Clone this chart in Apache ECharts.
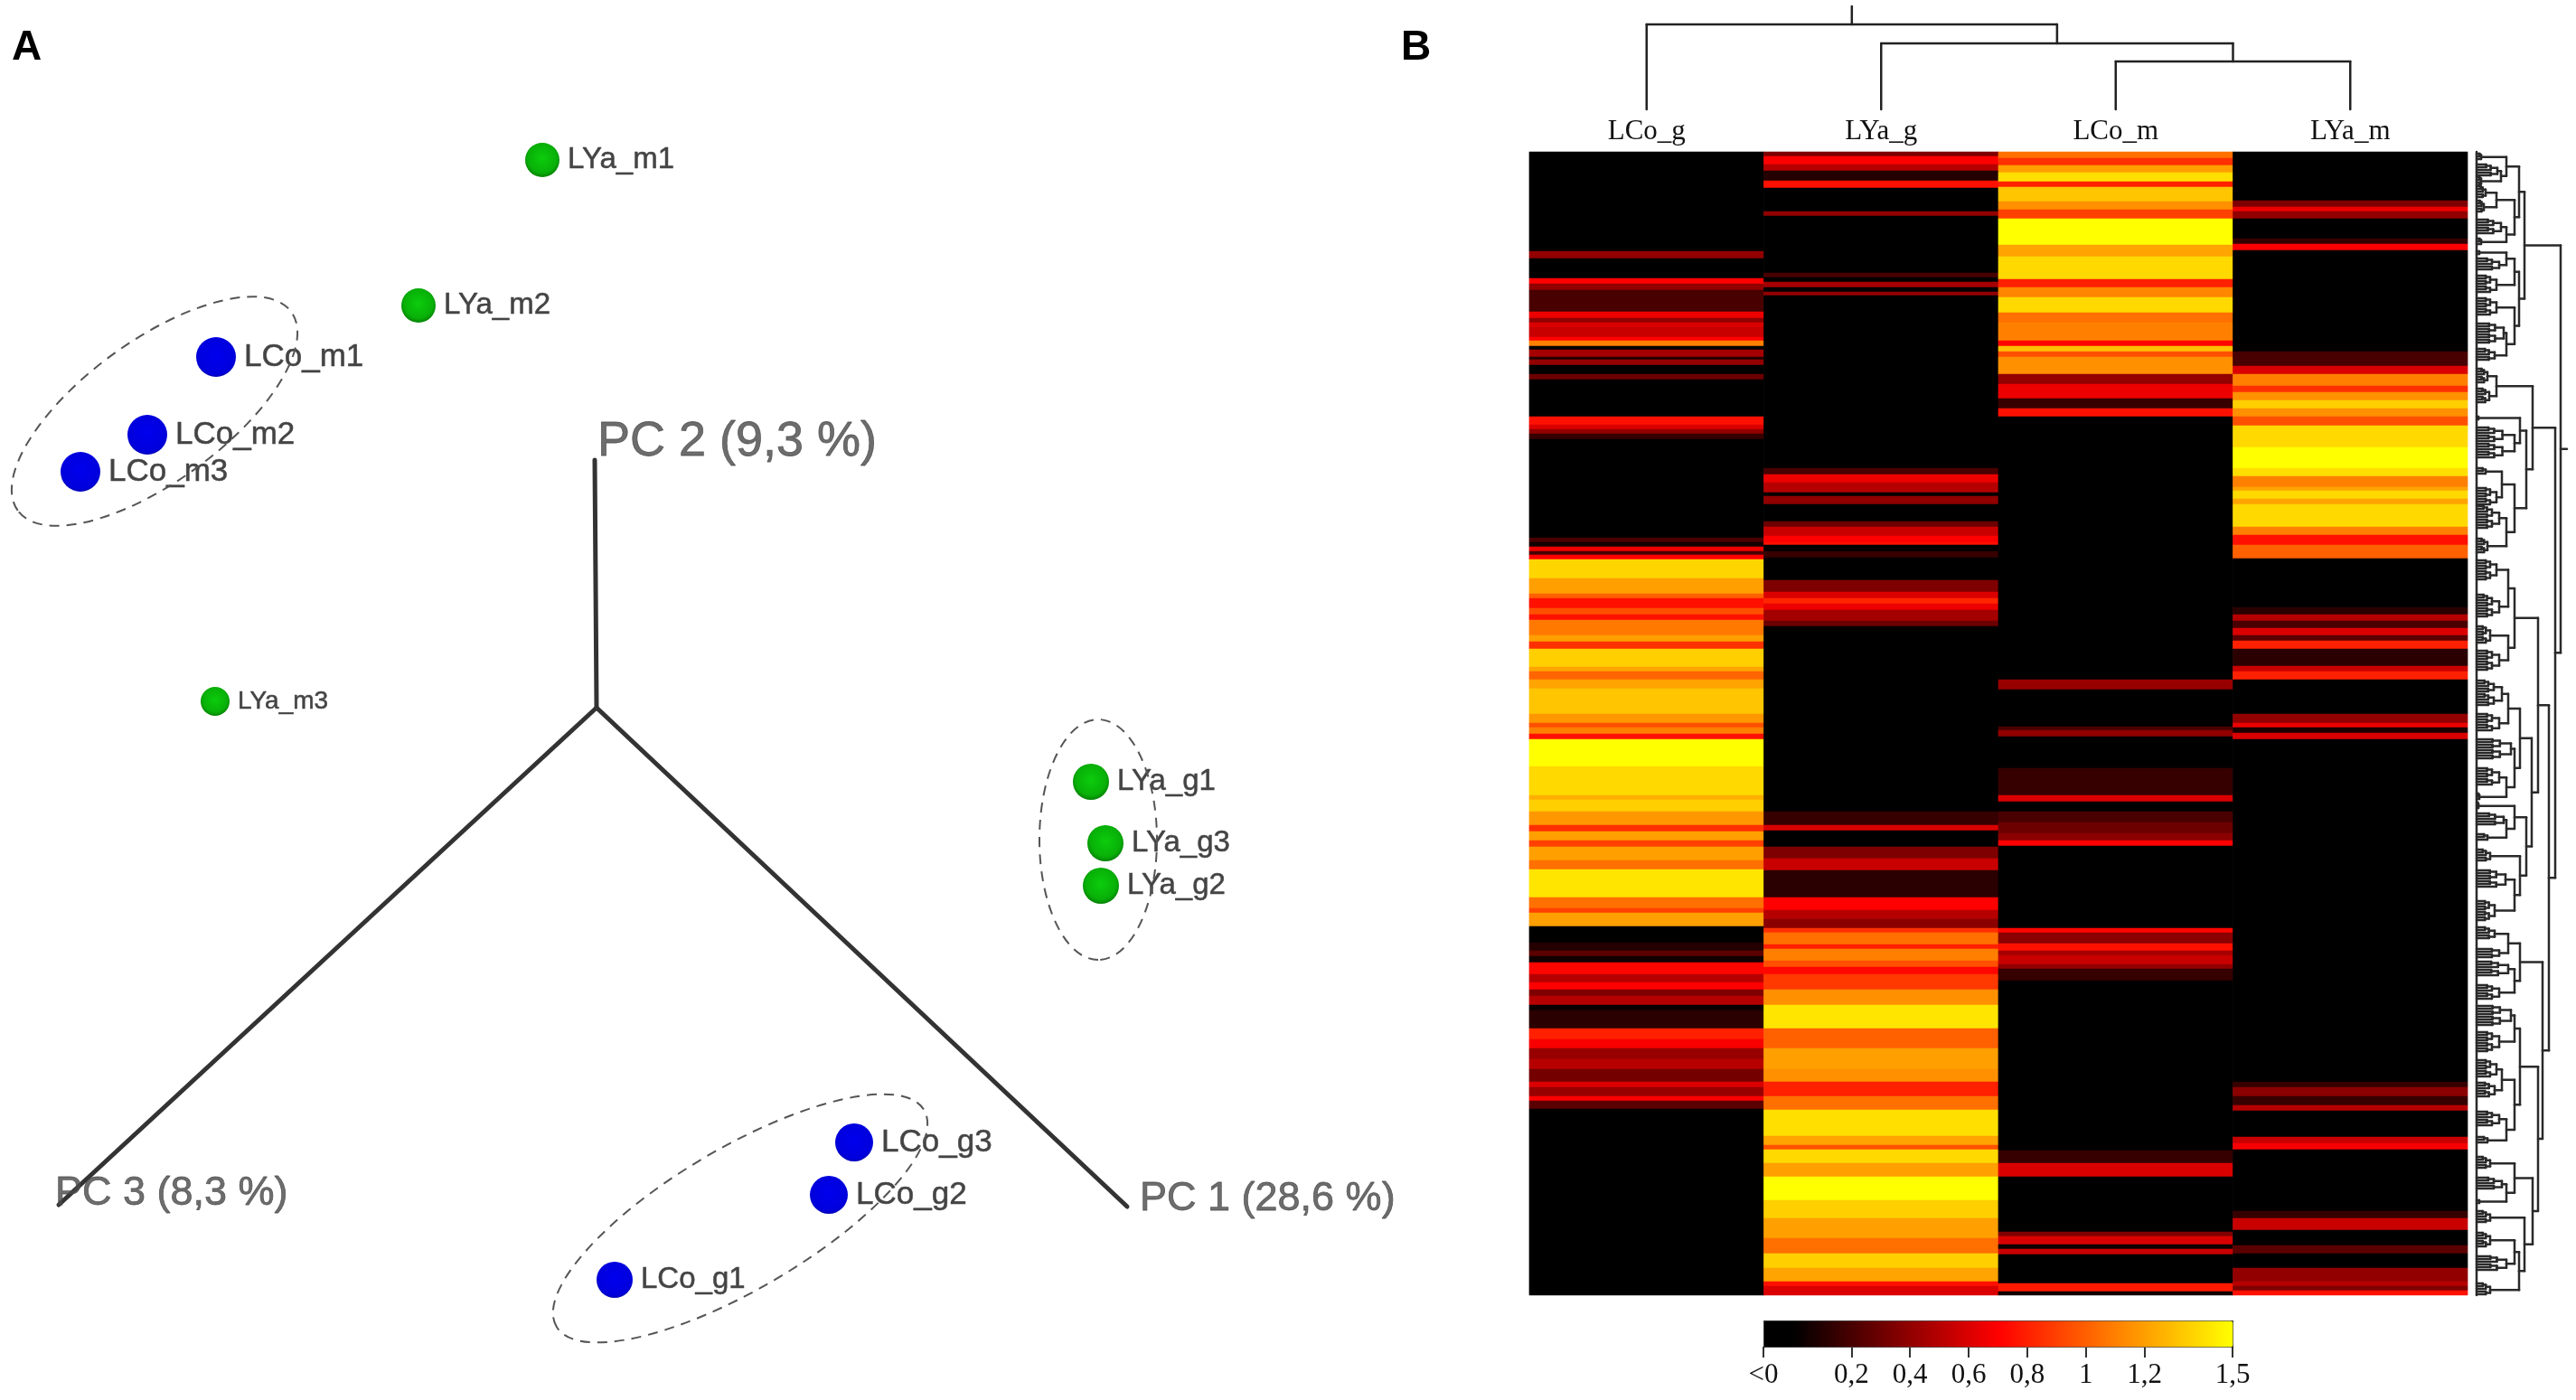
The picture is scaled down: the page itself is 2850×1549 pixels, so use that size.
<!DOCTYPE html>
<html>
<head>
<meta charset="utf-8">
<style>html,body{margin:0;padding:0;background:#fff}#c{width:2850px;height:1549px}</style>
<script src="https://cdn.jsdelivr.net/npm/echarts@6/dist/echarts.min.js"></script>
</head>
<body>
<div id="c"></div>
<script>
// ---------- Panel A data (projected PCA scores) ----------
var sampleNames = ['LYa_m1','LYa_m2','LYa_m3','LYa_g1','LYa_g2','LYa_g3','LCo_m1','LCo_m2','LCo_m3','LCo_g1','LCo_g2','LCo_g3'];
var sampleX = [600,463,238,1207,1218,1223,239,163,89,680,917,945];
var sampleY = [177,338,776,865,980,933,395,481,522,1416,1322,1264];
var axisNames = ['PC 1 (28,6 %)','PC 2 (9,3 %)','PC 3 (8,3 %)'];
var axisOrigin = [660,783];
var axisEndX = [1247,658,65];
var axisEndY = [1335,509,1333];
var axisLabelX = [1261,661,61];
var axisLabelY = [1327,489,1321];
// cluster outlines: centre x, centre y, half length, half width, tilt in degrees
var clusterOutlines = [[171,455,187,78,36],[1215,929,133,65,90],[819,1348,236,78,30.5]];

// ---------- Panel B data ----------
var columns = ['LCo_g','LYa_g','LCo_m','LYa_m'];
var rowCount = 1265;
// each band: [last row of the band, expression value]
var LCo_g = [[110,0],[118,.4],[140,0],[146,.7],[153,.4],[177,.2],[184,.65],[189,.4],[194,.6],[205,.55],[209,.7],[215,1.1],[219,0],[227,.45],[230,.1],[236,.4],[246,0],[252,.3],[293,0],[302,.75],[307,.6],[312,.4],[318,.15],[427,0],[432,.2],[437,.05],[442,.65],[446,.2],[451,.7],[472,1.37],[489,1.2],[494,1],[505,.75],[512,.95],[518,.75],[535,1.08],[542,1.2],[550,.85],[570,1.35],[575,1.22],[584,1.02],[594,1.22],[622,1.32],[632,1.18],[637,.95],[644,1.1],[650,.75],[680,1.5],[712,1.38],[717,1.25],[730,1.35],[745,1.18],[752,.85],[762,1.2],[769,.9],[784,1.2],[794,1.05],[825,1.42],[837,1.05],[842,.9],[857,1.2],[875,0],[884,.1],[890,.25],[897,.05],[910,.72],[919,.5],[927,.7],[934,.35],[944,.5],[950,.03],[970,.12],[982,.8],[992,.68],[1004,.42],[1015,.5],[1029,.32],[1035,.6],[1045,.42],[1050,.7],[1059,.25],[1265,0]];
var LYa_g = [[5,.35],[14,.7],[21,.5],[32,.1],[40,.75],[66,0],[71,.4],[134,0],[139,.2],[144,0],[150,.45],[155,0],[159,.4],[350,0],[357,.2],[366,.65],[377,.5],[381,0],[390,.4],[409,0],[415,.3],[425,.55],[432,.7],[435,.75],[442,0],[449,.15],[474,0],[487,.35],[494,.6],[500,.82],[507,.65],[519,.45],[525,.3],[730,0],[745,.15],[751,.6],[769,0],[782,.35],[795,.55],[825,.12],[839,.7],[849,.5],[859,.38],[864,.85],[877,1.05],[882,.8],[895,1.1],[902,.95],[910,.72],[927,.88],[944,1.15],[970,1.42],[992,1],[1015,1.2],[1029,1.15],[1045,.8],[1060,1.05],[1089,1.4],[1099,1.22],[1104,.95],[1119,1.38],[1134,1.2],[1160,1.5],[1180,1.35],[1202,1.2],[1219,1.05],[1235,1.35],[1250,1.22],[1255,.75],[1265,.6]];
var LCo_m = [[7,1.05],[15,.85],[23,1.2],[33,1.4],[39,.8],[55,1.32],[64,1.15],[74,.9],[103,1.5],[116,1.22],[141,1.38],[150,.8],[161,1.12],[178,1.38],[189,1.05],[209,1.1],[215,.72],[221,1.3],[227,.95],[246,1.15],[257,.4],[273,.65],[284,.15],[293,.75],[584,0],[595,.42],[636,0],[640,.2],[647,.4],[682,0],[712,.15],[719,.6],[730,0],[742,.2],[754,.3],[762,.38],[768,.7],[859,0],[864,.72],[876,.38],[884,.75],[889,.45],[899,.55],[904,.4],[917,.15],[1105,0],[1119,.15],[1134,.6],[1195,0],[1200,.35],[1209,.6],[1214,.05],[1220,.55],[1252,0],[1261,.78],[1265,.05]];
var LYa_m = [[54,0],[61,.35],[66,.65],[74,.4],[96,0],[102,.15],[109,.7],[221,0],[237,.2],[246,.6],[259,1.1],[266,.85],[275,1.15],[284,1.35],[293,1.15],[303,.95],[327,1.38],[350,1.5],[359,1.4],[371,1.1],[375,1.22],[384,1.38],[390,1.22],[415,1.38],[424,1.1],[435,.75],[450,1],[504,0],[512,.12],[519,.5],[527,.2],[535,.6],[541,.25],[550,.8],[569,.12],[575,.55],[584,.8],[622,0],[632,.4],[637,.65],[643,.08],[650,.6],[1029,0],[1035,.15],[1045,.38],[1055,.15],[1061,.5],[1090,0],[1097,.55],[1104,.68],[1172,0],[1180,.15],[1193,.55],[1210,0],[1219,.25],[1235,0],[1250,.4],[1255,.5],[1260,.35],[1265,.75]];
var columnBands = [LCo_g, LYa_g, LCo_m, LYa_m];
var scaleStops = ['#000000','#000000','#240000','#490000','#6d0000','#920000','#b60000','#db0000','#ff0000','#ff2000','#ff4000','#ff6000','#ff8000','#ff9f00','#ffbf00','#ffdf00','#ffff00'];
var scaleTickValues = [-0.1,0.2,0.4,0.6,0.8,1,1.2,1.5];
var scaleTickLabels = ['<0','0,2','0,4','0,6','0,8','1','1,2','1,5'];

// sample tree: [left x, left height, right x, right height, merge height]
var sampleMerges = [[2.5,0,3.5,0,53],[1.5,0,3,53,73],[0.5,0,2.25,73,94]];
var sampleRoot = [1.375,94,114];

// gene tree: n(height, upper, lower), g(first row, last row, height)
function n(h,a,b){return {h:h,a:a,b:b};}
function g(t,b,h){return {t:t,e:b,h:h};}
var geneTop = n(53,
  n(47, n(33,g(2,10,5),n(27,g(14,26,23),g(28,38,5))),
        n(42,n(22,g(38,50,10),g(54,66,8)),n(33,g(75,92,27),g(96,102,5)))),
  n(47, n(42,n(33,g(110,114,3),g(118,132,25)),g(137,156,22)),
        n(42,g(162,182,22),n(33,g(190,212,30),g(218,232,20)))));
var geneP1 = n(62, n(22,g(240,256,12),g(262,278,14)),
  n(55, n(48,g(293,297,2),g(305,340,42)),
        n(42,n(28,g(350,358,10),g(372,390,22)),n(33,g(392,417,25),g(428,445,12)))));
var geneP2 = n(80,
  n(68, n(42,n(35,g(452,475,22),g(490,515,25)),n(35,g(525,545,15),g(552,575,25))),
        n(61, n(48,n(35,g(585,612,28),g(622,642,25)),n(42,g(650,672,38),n(33,g(682,702,25),g(710,716,3)))),
              n(55,n(42,g(720,728,2),n(33,g(732,746,30),g(755,762,12))),
                   n(48,g(772,785,15),n(42,g(795,815,32),g(829,850,20)))))),
  n(73, n(48,n(35,g(858,870,20),g(882,892,25)),n(42,g(896,912,35),g(922,939,25))),
        n(68, n(48,n(42,g(945,966,38),g(974,997,25)),
                   n(42,n(28,g(1005,1025,22),g(1030,1045,20)),n(33,g(1062,1078,25),g(1090,1098,12)))),
              n(62,n(42,g(1112,1125,15),n(33,g(1135,1148,28),g(1160,1164,3))),
                   n(53,g(1172,1185,15),n(47,n(42,g(1196,1212,15),g(1222,1238,33)),g(1252,1265,15)))))));
var geneRoot = n(93, geneTop, n(87, geneP1, geneP2));
var geneLeafStep = 3;

// ---------- build series data ----------
var heatData = [];
columnBands.forEach(function(bands,c){
  var row = 0;
  bands.forEach(function(b){ for(; row<b[0]; row++) heatData.push([c,row,b[1]]); });
});
var rowNames = []; for (var r=0;r<rowCount;r++) rowNames.push(r);

var axisSegments = axisEndX.map(function(x,i){return [axisOrigin[0],axisOrigin[1],x,axisEndY[i]];});
var axisLabelSizes = [45,54,45];
var axisLabelData = axisNames.map(function(nm,i){return {name:nm,value:[axisLabelX[i],axisLabelY[i]],label:{fontSize:axisLabelSizes[i]}};});

var sampleSegments = [];
sampleMerges.forEach(function(m){
  sampleSegments.push([m[0],m[4],m[2],m[4]],[m[0],m[4],m[0],m[1]],[m[2],m[4],m[2],m[3]]);
});
sampleSegments.push([sampleRoot[0],sampleRoot[1],sampleRoot[0],sampleRoot[2]]);

var geneSegments = [[0,0,0,rowCount]];
function leafTree(ys,lo,hi,h){
  if (lo===hi) return {y:ys[lo],h:0};
  var mid = Math.floor((lo+hi)/2);
  var a = leafTree(ys,lo,mid,h*0.68), b = leafTree(ys,mid+1,hi,h*0.68);
  return joinBranches(h,a,b);
}
function joinBranches(h,a,b){
  geneSegments.push([h,a.y,h,b.y],[a.h,a.y,h,a.y],[b.h,b.y,h,b.y]);
  return {y:(a.y+b.y)/2,h:h};
}
function walk(t){
  if (t.a) return joinBranches(t.h,walk(t.a),walk(t.b));
  var ys=[]; for (var y=t.t;y<=t.e;y+=geneLeafStep) ys.push(y);
  return leafTree(ys,0,ys.length-1,t.h);
}
var geneRootPoint = walk(geneRoot);
geneSegments.push([93,geneRootPoint.y,100,geneRootPoint.y]);

function segmentRenderer(width,color){
  return function(p,api){
    var a=api.coord([api.value(0),api.value(1)]), b=api.coord([api.value(2),api.value(3)]);
    return {type:'line',shape:{x1:a[0],y1:a[1],x2:b[0],y2:b[1]},style:{stroke:color,lineWidth:width,lineCap:'round'},silent:true};
  };
}
var ballGreen = {type:'radial',x:0.5,y:0.45,r:0.6,colorStops:[{offset:0,color:'#0ccc0c'},{offset:0.7,color:'#08b008'},{offset:1,color:'#047004'}]};
var ballBlue  = {type:'radial',x:0.5,y:0.45,r:0.6,colorStops:[{offset:0,color:'#0000ee'},{offset:0.8,color:'#0000dc'},{offset:1,color:'#06069a'}]};
// marker and label sizes per sample (same order as sampleNames)
var markerSizes = [38,38,32,40,40,40,44,44,44,40,42,42];
var labelSizes  = [33,33,28,33,33,33,35,35,35,33,35,35];
var sampleData = sampleNames.map(function(nm,i){
  return {name:nm,value:[sampleX[i],sampleY[i]],symbolSize:markerSizes[i],
    itemStyle:{color:nm.indexOf('LYa')===0?ballGreen:ballBlue,opacity:1},
    label:{fontSize:labelSizes[i]}};
});

var option = {
  backgroundColor:'#fff',
  animation:false,
  graphic:[
    {type:'text',left:13,top:30,style:{text:'A',font:'bold 46px "Liberation Sans"',fill:'#000'}},
    {type:'text',left:1550,top:30,style:{text:'B',font:'bold 46px "Liberation Sans"',fill:'#000'}}
  ],
  grid:[
    {left:0,top:0,width:1600,height:1549},
    {left:1692,top:168,width:1038,height:1265},
    {left:1692,top:7,width:1038,height:114},
    {left:2740,top:168,width:110,height:1265},
    {left:1951,top:1461,width:519,height:29}
  ],
  xAxis:[
    {gridIndex:0,type:'value',min:0,max:1600,show:false},
    {gridIndex:1,type:'category',data:columns,position:'top',axisTick:{show:false},axisLine:{show:false},
     axisLabel:{margin:7,fontFamily:'Liberation Serif',fontSize:31,color:'#111'}},
    {gridIndex:2,type:'value',min:0,max:4,show:false},
    {gridIndex:3,type:'value',min:0,max:110,show:false},
    {gridIndex:4,type:'value',min:-0.1,max:1.5,position:'bottom',splitLine:{show:false},axisLine:{show:false},
     axisTick:{show:true,length:12,customValues:scaleTickValues,lineStyle:{color:'#333',width:2}},
     axisLabel:{customValues:scaleTickValues,margin:16,fontFamily:'Liberation Serif',fontSize:31,color:'#111',
       showMinLabel:true,showMaxLabel:true,
       formatter:function(v){var i=scaleTickValues.indexOf(v);return i<0?'':scaleTickLabels[i];}}}
  ],
  yAxis:[
    {gridIndex:0,type:'value',min:0,max:1549,inverse:true,show:false},
    {gridIndex:1,type:'category',data:rowNames,inverse:true,show:false},
    {gridIndex:2,type:'value',min:0,max:114,show:false},
    {gridIndex:3,type:'value',min:0,max:rowCount,inverse:true,show:false},
    {gridIndex:4,type:'value',min:0,max:1,show:false}
  ],
  visualMap:{
    type:'continuous',seriesIndex:0,min:-0.1,max:1.5,orient:'horizontal',calculable:false,realtime:false,
    left:1951,top:1461,itemWidth:29,itemHeight:519,padding:0,text:null,showLabel:false,hoverLink:false,
    borderColor:'#222',borderWidth:1,inRange:{color:scaleStops}
  },
  series:[
    {type:'heatmap',xAxisIndex:1,yAxisIndex:1,data:heatData,progressive:0,silent:true,itemStyle:{borderWidth:0}},
    {type:'custom',name:'axes',xAxisIndex:0,yAxisIndex:0,data:axisSegments,silent:true,z:2,
     renderItem:segmentRenderer(5,'#333'),encode:{x:[0,2],y:[1,3]}},
    {type:'custom',name:'outlines',xAxisIndex:0,yAxisIndex:0,data:clusterOutlines,silent:true,z:5,encode:{x:0,y:1},
     renderItem:function(p,api){
       var c=api.coord([api.value(0),api.value(1)]), s=api.size([api.value(2),api.value(3)]);
       return {type:'ellipse',x:c[0],y:c[1],rotation:api.value(4)*Math.PI/180,
         shape:{cx:0,cy:0,rx:s[0],ry:s[1]},
         style:{fill:null,stroke:'#555',lineWidth:2,lineDash:[11,8]},silent:true};
     }},
    {type:'scatter',name:'samples',xAxisIndex:0,yAxisIndex:0,data:sampleData,silent:true,z:3,
     label:{show:true,position:'right',distance:9,formatter:'{b}',fontFamily:'Liberation Sans',color:'#444',textBorderColor:'#444',textBorderWidth:0.5}},
    {type:'scatter',name:'axis labels',xAxisIndex:0,yAxisIndex:0,data:axisLabelData,symbolSize:0,silent:true,z:4,
     label:{show:true,position:'right',distance:0,formatter:'{b}',fontFamily:'Liberation Sans',color:'#484848',textBorderColor:'#484848',textBorderWidth:0.8}},
    {type:'custom',name:'sample tree',xAxisIndex:2,yAxisIndex:2,data:sampleSegments,silent:true,
     renderItem:segmentRenderer(2.5,'#222'),encode:{x:[0,2],y:[1,3]}},
    {type:'custom',name:'gene tree',xAxisIndex:3,yAxisIndex:3,data:geneSegments,silent:true,
     renderItem:segmentRenderer(2.5,'#2a2a2a'),encode:{x:[0,2],y:[1,3]}},
    {type:'scatter',name:'scale axis',xAxisIndex:4,yAxisIndex:4,data:[],silent:true}
  ]
};
var chart = echarts.init(document.getElementById('c'),null,{renderer:'canvas'});
chart.setOption(option);
</script>
</body>
</html>
